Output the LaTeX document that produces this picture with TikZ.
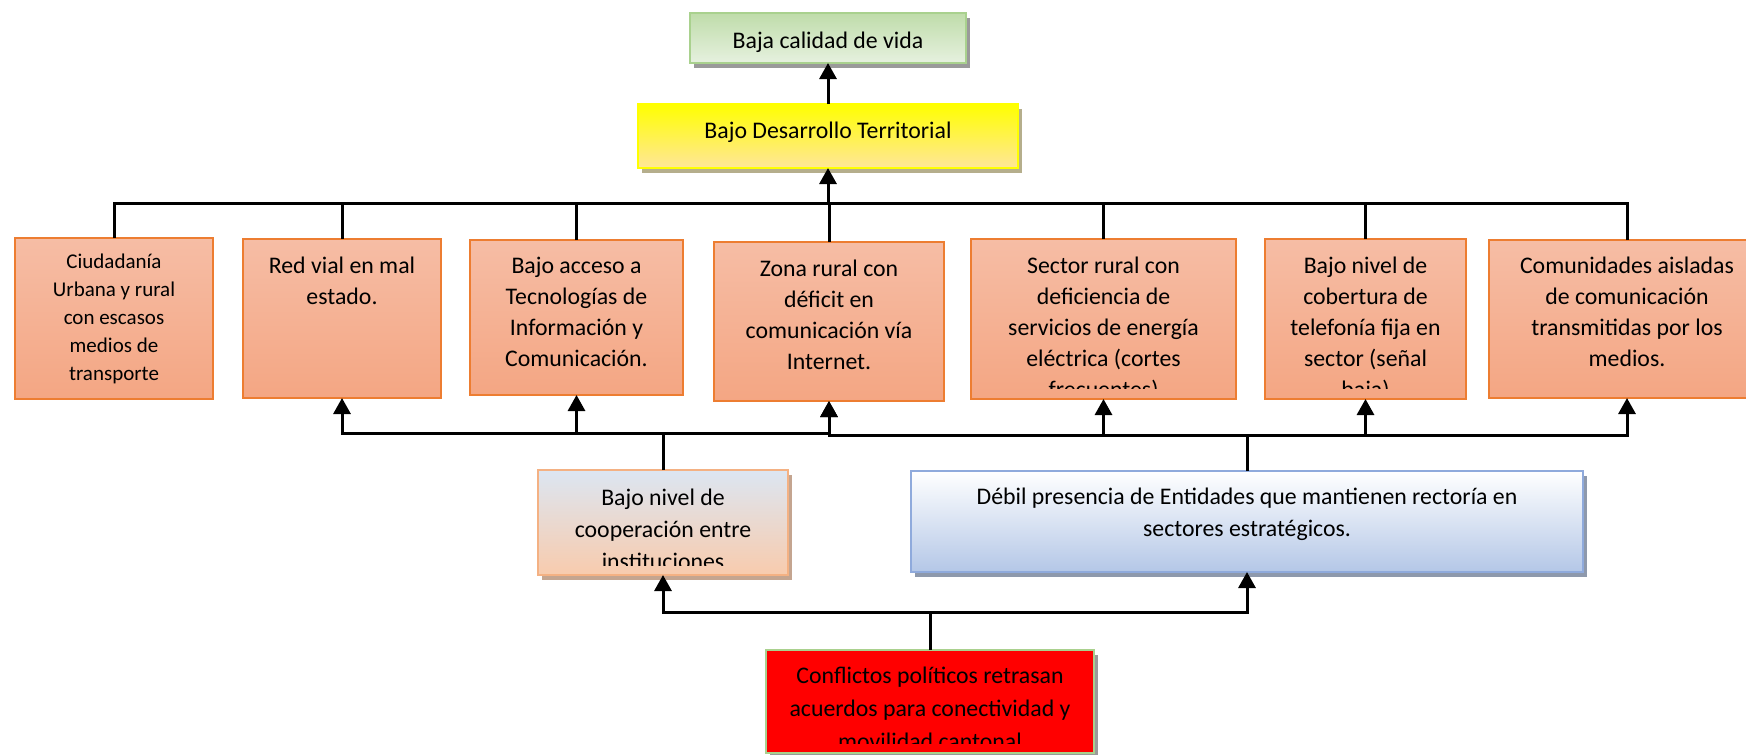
\documentclass[tikz,border=0pt]{standalone}
\usepackage{fontspec}
\setmainfont{Carlito}
\usetikzlibrary{arrows.meta,shadows}
\definecolor{obd}{HTML}{ED7D31}
\definecolor{otop}{HTML}{F6BDA5}
\definecolor{obot}{HTML}{F4A683}
\definecolor{gbd}{HTML}{A9D18E}
\definecolor{gtop}{HTML}{BFDCAA}
\definecolor{gbot}{HTML}{E6F1DF}
\definecolor{ytop}{HTML}{FFFF00}
\definecolor{ybot}{HTML}{FFE699}
\definecolor{ysh}{HTML}{B5AE8C}
\definecolor{ctop}{HTML}{DCE6F2}
\definecolor{cbot}{HTML}{F8CBAD}
\definecolor{cbd}{HTML}{F4B183}
\definecolor{csh}{HTML}{C4A590}
\definecolor{dbot}{HTML}{B4C7E7}
\definecolor{dbd}{HTML}{8FAADC}
\definecolor{dsh}{HTML}{8E99AC}
\definecolor{gsh}{HTML}{9A9A9A}
\begin{document}
\begin{tikzpicture}[x=0.5pt,y=-0.5pt,
  box/.style={draw, line width=1pt, inner sep=0pt, outer sep=0pt, rectangle},
  obox/.style={box, draw=obd, top color=otop, bottom color=obot},
  shd/.style={drop shadow={shadow xshift=2pt, shadow yshift=-2.5pt, fill=#1, opacity=1}},
  txt/.style={anchor=north, inner sep=0pt, outer sep=0pt, align=center, font=\fontsize{11.9}{15.5}\selectfont},
  txtb/.style={txt, font=\fontsize{11.9}{16}\selectfont},
  one/.style={anchor=base, inner sep=0pt, outer sep=0pt, font=\fontsize{11.9}{15.5}\selectfont},
  ln/.style={line width=1.5pt, black},
  arr/.style={ln, -{Triangle[width=8.5pt,length=8pt]}},
]
\useasboundingbox (0,0) rectangle (1746,755);

% top boxes
\node[box, draw=gbd, top color=gtop, bottom color=gbot, minimum width=138pt, minimum height=25pt, shd=gsh] (G) at (828,38) {};
\node[one] (Gt) at (828,48) {Baja calidad de vida};
\node[box, draw=ytop, top color=ytop, bottom color=ybot, minimum width=190pt, minimum height=32pt, shd=ysh] (Y) at (828,136) {};
\node[one] (Yt) at (828,138) {Bajo Desarrollo Territorial};

% effect boxes
\node[obox, minimum width=99pt, minimum height=80.5pt] (B1) at (114,318.5) {};
\node[txt, font=\fontsize{10.5}{14}\selectfont] (B1t) at (114,248.4) {\strut Ciudadanía\\Urbana y rural\\con escasos\\medios de\\transporte};
\node[obox, minimum width=99pt, minimum height=79.5pt] (B2) at (342,318.5) {};
\node[txt] (B2t) at (342,251.3) {\strut Red vial en mal\\estado.};
\node[obox, minimum width=106.5pt, minimum height=77.5pt] (B3) at (576.5,317.5) {};
\node[txt] (B3t) at (576.5,251.3) {\strut Bajo acceso a\\Tecnologías de\\Información y\\Comunicación.};
\node[obox, minimum width=115pt, minimum height=79.5pt] (B4) at (829,321.5) {};
\node[txt] (B4t) at (829,254.3) {\strut Zona rural con\\déficit en\\comunicación vía\\Internet.};
\node[obox, minimum width=132.5pt, minimum height=80pt] (B5) at (1103.5,319) {};
\begin{scope}
\clip (971,239) rectangle (1236,388);
\node[txt] (B5t) at (1103.5,251.3) {\strut Sector rural con\\deficiencia de\\servicios de energía\\eléctrica (cortes\\frecuentes)};
\end{scope}
\node[obox, minimum width=100.5pt, minimum height=80pt] (B6) at (1365.5,319) {};
\begin{scope}
\clip (1265,239) rectangle (1466,388);
\node[txt] (B6t) at (1365.5,251.3) {\strut Bajo nivel de\\cobertura de\\telefonía fija en\\sector (señal\\baja)};
\end{scope}
\node[obox, minimum width=138pt, minimum height=79pt] (B7) at (1627,319) {};
\node[txt] (B7t) at (1627,251.3) {\strut Comunidades aisladas\\de comunicación\\transmitidas por los\\medios.};

% cause boxes
\node[box, draw=cbd, top color=ctop, bottom color=cbot, minimum width=125pt, minimum height=52.5pt, shd=csh] (C) at (663,522.5) {};
\begin{scope}
\clip (538,470) rectangle (788,565);
\node[txtb] (Ct) at (663,482.6) {\strut Bajo nivel de\\cooperación entre\\instituciones};
\end{scope}
\node[box, draw=dbd, top color=white, bottom color=dbot, minimum width=336pt, minimum height=50.5pt, shd=dsh] (D) at (1247,521.5) {};
\node[txtb] (Dt) at (1247,481.6) {\strut Débil presencia de Entidades que mantienen rectoría en\\sectores estratégicos.};
\node[box, draw=gbd, fill=red, minimum width=164pt, minimum height=51.5pt, shd=gsh] (K) at (930,701.5) {};
\begin{scope}
\clip (766,650) rectangle (1094,743);
\node[txt, font=\fontsize{11.9}{16.5}\selectfont] (Kt) at (930,659.9) {\strut Conflictos políticos retrasan\\acuerdos para conectividad y\\movilidad cantonal};
\end{scope}

% connectors
\coordinate (tb) at (828,203);
\coordinate (lc) at (663,433);
\coordinate (ld) at (1247,435);
\coordinate (kb) at (930,612);

\draw[arr] (Y.north) -- (G.south);
\draw[arr] (tb) -- (Y.south);
\foreach \b in {B1,B2,B3,B4,B5,B6,B7} \draw[ln] (\b.north) |- (tb);

\draw[ln] (C.north) -- (lc);
\foreach \b in {B2,B3,B4} \draw[arr] (lc) -| (\b.south);
\draw[ln] (D.north) -- (ld);
\foreach \b in {B4,B5,B6,B7} \draw[arr] (ld) -| (\b.south);

\draw[ln] (K.north) -- (kb);
\draw[arr] (kb) -| (C.south);
\draw[arr] (kb) -| (D.south);
\end{tikzpicture}
\end{document}
